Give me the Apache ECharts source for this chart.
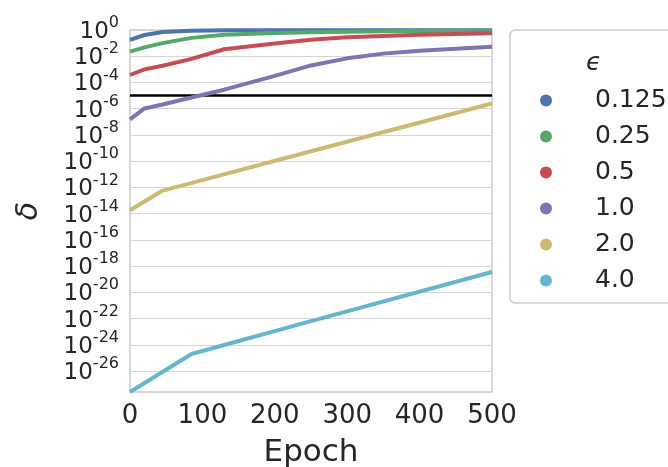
<!DOCTYPE html>
<html>
<head>
<meta charset="utf-8">
<script src="https://cdn.jsdelivr.net/npm/echarts@6/dist/echarts.min.js"></script>
<style>
  html, body { margin: 0; padding: 0; background: #fff; }
  #chart { width: 668px; height: 467px; }
</style>
</head>
<body>
<div id="chart"></div>
<script>
var myChart = echarts.init(document.getElementById('chart'))

// epsilon values (legend) and colours
var epsNames = ['0.125', '0.25', '0.5', '1.0', '2.0', '4.0']
var colors = ['#4C72B0', '#55A868', '#C44E52', '#8172B2', '#CCB974', '#64B5CD']

// epochs for each curve
var epochs0125 = [0, 20, 45, 85, 130, 200, 500]
var epochs025 = [0, 20, 45, 85, 130, 200, 250, 300, 350, 400, 450, 500]
var epochs05 = [0, 20, 45, 85, 130, 200, 250, 300, 350, 400, 450, 500]
var epochs1 = [0, 20, 45, 85, 130, 200, 250, 300, 350, 400, 450, 500]
var epochs2 = [0, 44, 250, 500]
var epochs4 = [0, 85, 250, 500]

// log10(delta)
var logDelta0125 = [-0.76, -0.38, -0.15, -0.05, -0.02, -0.01, -0.01]
var logDelta025 = [-1.65, -1.32, -1.0, -0.6, -0.36, -0.22, -0.17, -0.13, -0.1, -0.08, -0.06, -0.05]
var logDelta05 = [-3.43, -3.0, -2.72, -2.2, -1.47, -1.02, -0.74, -0.56, -0.45, -0.37, -0.3, -0.25]
var logDelta1 = [-6.82, -5.98, -5.68, -5.15, -4.55, -3.5, -2.7, -2.16, -1.8, -1.58, -1.43, -1.27]
var logDelta2 = [-13.74, -12.27, -9.24, -5.6]
var logDelta4 = [-27.6, -24.7, -22.2, -18.45]

// black reference line: delta = 1e-5
var thresholdLogDelta = -5
var yMin = -27.6
// a hair above 10^0 so the 10^0 label is not the axis-end label (keeps 10^-2 visible)
var yMax = 0.001

var allEpochs = [epochs0125, epochs025, epochs05, epochs1, epochs2, epochs4]
var allLogDelta = [logDelta0125, logDelta025, logDelta05, logDelta1, logDelta2, logDelta4]

var font = 'DejaVu Sans'
var textColor = '#262626'

var series = []
for (var i = 0; i < epsNames.length; i++) {
  var pts = []
  for (var j = 0; j < allEpochs[i].length; j++) {
    pts.push([allEpochs[i][j], allLogDelta[i][j]])
  }
  var s = {
    name: epsNames[i],
    type: 'line',
    data: pts,
    showSymbol: false,
    symbol: 'circle',
    lineStyle: { width: 4, color: colors[i] },
    itemStyle: { color: colors[i] },
    z: 3
  }
  if (i === 0) {
    s.markLine = {
      silent: true,
      symbol: 'none',
      label: { show: false },
      lineStyle: { color: '#000', width: 2.5, type: 'solid' },
      data: [{ yAxis: thresholdLogDelta }],
      z: 2
    }
  }
  series.push(s)
}

var option = {
  backgroundColor: '#fff',
  animation: false,
  textStyle: { fontFamily: font },
  grid: {
    left: 130,
    right: 176,
    top: 30,
    bottom: 75,
    outerBoundsMode: 'none',
    show: true,
    borderColor: '#cccccc',
    borderWidth: 1.5
  },
  title: {
    text: 'ϵ',
    left: 581,
    top: 46,
    textStyle: { fontFamily: font, fontStyle: 'italic', fontWeight: 'normal', fontSize: 25, color: textColor }
  },
  legend: {
    orient: 'vertical',
    left: 510,
    top: 30,
    padding: [58, 80, 10, 30],
    itemGap: 11,
    itemWidth: 12,
    itemHeight: 12,
    icon: 'circle',
    backgroundColor: '#fff',
    borderColor: '#cccccc',
    borderWidth: 1.5,
    borderRadius: 5,
    textStyle: {
      fontFamily: font,
      fontSize: 25,
      lineHeight: 24,
      color: textColor,
      padding: [0, 0, 0, 38]
    },
    data: epsNames
  },
  xAxis: {
    type: 'value',
    min: 0,
    max: 500,
    interval: 100,
    name: 'Epoch',
    nameLocation: 'middle',
    nameGap: 45,
    nameTextStyle: { fontFamily: font, fontSize: 31, color: textColor },
    axisLine: { show: false },
    axisTick: { show: false },
    splitLine: { show: false },
    axisLabel: { fontFamily: font, fontSize: 26, color: textColor, margin: 11 }
  },
  yAxis: {
    type: 'value',
    min: yMin,
    max: yMax,
    splitNumber: 14,
    name: 'δ',
    nameLocation: 'middle',
    nameGap: 86,
    nameRotate: 90,
    nameTextStyle: { fontFamily: font, fontStyle: 'italic', fontSize: 30, color: textColor },
    axisLine: { show: false },
    axisTick: { show: false },
    splitLine: { show: true, lineStyle: { color: '#d5d5d5', width: 1.2 } },
    axisLabel: {
      margin: 11,
      hideOverlap: false,
      showMinLabel: true,
      showMaxLabel: true,
      formatter: function (v) {
        var r = Math.round(v)
        if (Math.abs(v - r) > 0.0001 || r % 2 !== 0) return ''
        return '{b|10}{s|' + r + '}'
      },
      rich: {
        b: { fontFamily: font, fontSize: 23, lineHeight: 20, height: 16, color: textColor, verticalAlign: 'bottom' },
        s: { fontFamily: font, fontSize: 16, lineHeight: 20, height: 6, color: textColor, verticalAlign: 'top' }
      }
    }
  },
  series: series
}
myChart.setOption(option)
</script>
</body>
</html>
